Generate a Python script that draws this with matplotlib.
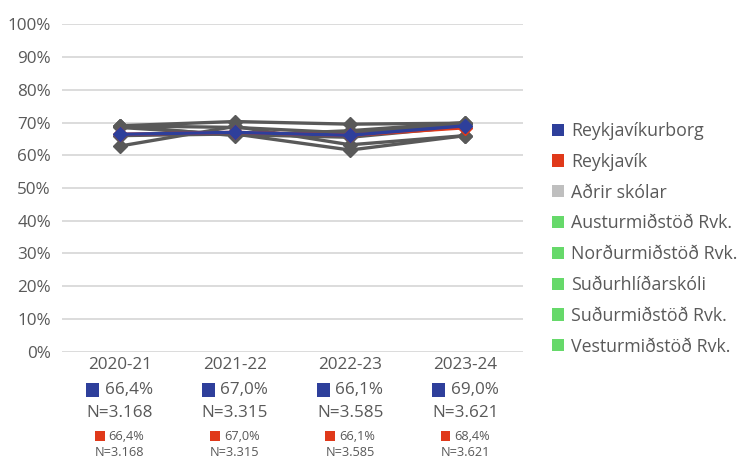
import matplotlib
matplotlib.use("Agg")
import matplotlib.pyplot as plt
from matplotlib.patches import Patch, Rectangle
from matplotlib.offsetbox import AnnotationBbox, HPacker, TextArea, DrawingArea
import matplotlib.transforms as mtransforms

plt.rcParams['font.family'] = ['Open Sans', 'DejaVu Sans']

years = ["2020-21", "2021-22", "2022-23", "2023-24"]

reykjavikurborg = [66.4, 67.0, 66.1, 69.0]
reykjavik = [66.4, 67.0, 66.1, 68.4]
n_total = ["3.168", "3.315", "3.585", "3.621"]

adrir_skolar = [69.0, 70.3, 69.5, 69.8]
austurmidstod = [69.0, 66.0, 67.5, 70.0]
nordurmidstod = [62.8, 68.8, 63.2, 66.0]
sudurhlidarskoli = [66.0, 66.5, 61.6, 66.0]
sudurmidstod = [68.5, 66.3, 65.5, 68.8]
vesturmidstod = [69.0, 68.5, 66.8, 69.5]

legend_labels = ["Reykjavíkurborg", "Reykjavík", "Aðrir skólar",
                 "Austurmiðstöð Rvk.", "Norðurmiðstöð Rvk.", "Suðurhlíðarskóli",
                 "Suðurmiðstöð Rvk.", "Vesturmiðstöð Rvk."]

BLUE = "#2E3F9B"
RED = "#E0391A"
GREY_LEG = "#BFBFBF"
GREEN = "#66D96A"
LINE_GREY = "#595959"
TEXT = "#595959"
GRID = "#D9D9D9"

fig = plt.figure(figsize=(7.41, 4.59), dpi=100)
ax = fig.add_axes([62 / 741, 1 - 351.7 / 459, 461 / 741, 327.4 / 459])

x = list(range(len(years)))
for series in [adrir_skolar, austurmidstod, nordurmidstod,
               sudurhlidarskoli, sudurmidstod, vesturmidstod]:
    ax.plot(x, series, color=LINE_GREY, lw=2.4, marker="D", ms=7,
            mfc=LINE_GREY, mec=LINE_GREY, zorder=2)
ax.plot(x, reykjavik, color=RED, lw=2.4, marker="D", ms=7,
        mfc=RED, mec=RED, zorder=3)
ax.plot(x, reykjavikurborg, color=BLUE, lw=2.4, marker="D", ms=7,
        mfc=BLUE, mec=BLUE, zorder=4)

ax.set_xlim(-0.5, len(years) - 0.5)
ax.set_ylim(0, 100)
ax.set_yticks(range(0, 101, 10))
ax.set_yticklabels([f"{v}%" for v in range(0, 101, 10)])
ax.set_xticks(x)
ax.set_xticklabels(years)
ax.tick_params(axis="both", length=0, labelsize=12.3, labelcolor=TEXT)
ax.tick_params(axis="y", pad=8)
ax.tick_params(axis="x", pad=4)
ax.grid(axis="y", color=GRID, lw=1.3)
ax.set_axisbelow(True)
for s in ax.spines.values():
    s.set_visible(False)

trans = mtransforms.blended_transform_factory(ax.transData, fig.transFigure)


def square(size_pt, color):
    da = DrawingArea(size_pt, size_pt, 0, 0)
    da.add_artist(Rectangle((0, 0), size_pt, size_pt, fc=color, ec="none"))
    return da


for i in x:
    big = HPacker(children=[square(9.4, BLUE),
                            TextArea(f"{reykjavikurborg[i]:.1f}%".replace(".", ","),
                                     textprops=dict(color=TEXT, fontsize=12.3))],
                  align="center", pad=0, sep=4)
    ax.add_artist(AnnotationBbox(big, (i, 1 - 390 / 459), xycoords=trans,
                                 frameon=False, box_alignment=(0.5, 0.5),
                                 annotation_clip=False))
    fig.text(0, 0, f"N={n_total[i]}", transform=trans, color=TEXT, fontsize=12.3,
             ha="center", va="center").set_position((i, 1 - 413 / 459))
    small = HPacker(children=[square(7.0, RED),
                              TextArea(f"{reykjavik[i]:.1f}%".replace(".", ","),
                                       textprops=dict(color=TEXT, fontsize=9.2))],
                    align="center", pad=0, sep=3)
    ax.add_artist(AnnotationBbox(small, (i, 1 - 436 / 459), xycoords=trans,
                                 frameon=False, box_alignment=(0.5, 0.5),
                                 annotation_clip=False))
    fig.text(0, 0, f"N={n_total[i]}", transform=trans, color=TEXT, fontsize=9.2,
             ha="center", va="center").set_position((i, 1 - 453 / 459))

legend_colors = [BLUE, RED, GREY_LEG] + [GREEN] * 5
handles = [Patch(fc=c, ec="none") for c in legend_colors]
fig.legend(handles, legend_labels, loc="upper left",
           bbox_to_anchor=(552 / 741, 1 - 122 / 459), frameon=False,
           fontsize=12.8, labelcolor=TEXT, handlelength=0.68, handleheight=0.68,
           handletextpad=0.4, labelspacing=0.72, borderaxespad=0, borderpad=0)

fig.savefig("out.png", dpi=100)
